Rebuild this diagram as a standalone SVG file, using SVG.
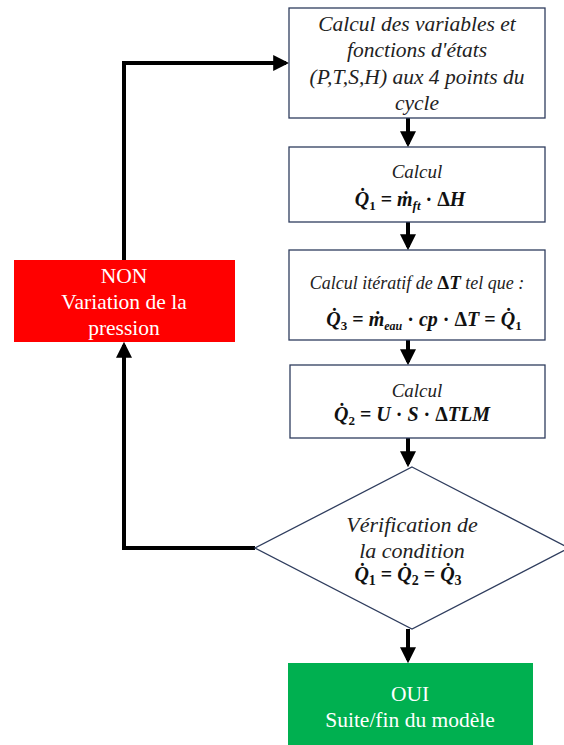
<svg xmlns="http://www.w3.org/2000/svg" width="564" height="745" viewBox="0 0 564 745">
<style>
.box{fill:#fff;stroke:#2f3d5e;stroke-width:1.3}
.t{font-family:"Liberation Serif","DejaVu Serif",serif;fill:#222;text-anchor:middle}
.it{font-style:italic}
.m{font-family:"Liberation Serif","DejaVu Serif",serif;font-style:italic;font-weight:bold;fill:#111;text-anchor:middle;font-size:20px}
.w{font-family:"Liberation Serif","DejaVu Serif",serif;fill:#fff;text-anchor:middle;font-size:21.5px}
.c{stroke:#000;stroke-width:4;fill:none}
</style>
<defs>
<marker id="ah" markerWidth="4" markerHeight="4" refX="3.2" refY="2" orient="auto" markerUnits="strokeWidth">
<path d="M0,0 L4,2 L0,4 Z" fill="#000"/>
</marker>
</defs>
<g id="connectors">
<line class="c" x1="408" y1="118" x2="408" y2="144" marker-end="url(#ah)"/>
<line class="c" x1="408" y1="222" x2="408" y2="247" marker-end="url(#ah)"/>
<line class="c" x1="408" y1="340" x2="408" y2="362" marker-end="url(#ah)"/>
<line class="c" x1="408" y1="438" x2="408" y2="464" marker-end="url(#ah)"/>
<line class="c" x1="408" y1="629" x2="408" y2="660" marker-end="url(#ah)"/>
<polyline class="c" points="255,548 124,548 124,345" marker-end="url(#ah)"/>
<polyline class="c" points="124,260 124,63 286,63" marker-end="url(#ah)"/>
</g>
<g id="n1">
<rect class="box" x="289" y="8" width="256" height="110"/>
<text class="t it" font-size="21.5" x="417" y="31">Calcul des variables et</text>
<text class="t it" font-size="21.5" x="417" y="57">fonctions d'états</text>
<text class="t it" font-size="21.5" x="417" y="84">(P,T,S,H) aux 4 points du</text>
<text class="t it" font-size="21.5" x="417" y="110">cycle</text>
</g>
<g id="n2">
<rect class="box" x="289" y="147" width="256" height="75"/>
<text class="t it" font-size="19" x="417" y="178">Calcul</text>
<text class="m" x="410" y="206">Q̇<tspan font-size="13" font-style="normal" dy="4">1</tspan><tspan dy="-4" font-style="normal"> = </tspan>ṁ<tspan font-size="13" dy="4">ft</tspan><tspan dy="-4" font-style="normal"> · Δ</tspan>H</text>
</g>
<g id="n3">
<rect class="box" x="289" y="250" width="256" height="90"/>
<text class="t it" font-size="18" x="417" y="289">Calcul itératif de <tspan font-weight="bold" font-style="normal" font-size="19" fill="#111">Δ</tspan><tspan font-weight="bold" font-size="19" fill="#111">T</tspan> tel que :</text>
<text class="m" x="424" y="326" font-size="19">Q̇<tspan font-size="13" font-style="normal" dy="4">3</tspan><tspan dy="-4" font-style="normal"> = </tspan>ṁ<tspan font-size="12" dy="4">eau</tspan><tspan dy="-4" font-style="normal"> · </tspan>cp<tspan font-style="normal"> · Δ</tspan>T<tspan font-style="normal"> = </tspan>Q̇<tspan font-size="13" font-style="normal" dy="4">1</tspan></text>
</g>
<g id="n4">
<rect class="box" x="290" y="365" width="255" height="73"/>
<text class="t it" font-size="19" x="417" y="397">Calcul</text>
<text class="m" x="412" y="421">Q̇<tspan font-size="13" font-style="normal" dy="4">2</tspan><tspan dy="-4" font-style="normal"> = </tspan>U<tspan font-style="normal"> · </tspan>S<tspan font-style="normal"> · Δ</tspan>TLM</text>
</g>
<g id="n5">
<polygon class="box" points="412,467 569,548 412,629 255,548"/>
<text class="t it" font-size="22" x="412" y="532">Vérification de</text>
<text class="t it" font-size="22" x="412" y="558">la condition</text>
<text class="m" x="408" y="581" font-size="21">Q̇<tspan font-size="14" font-style="normal" dy="4">1</tspan><tspan dy="-4" font-style="normal"> = </tspan>Q̇<tspan font-size="14" font-style="normal" dy="4">2</tspan><tspan dy="-4" font-style="normal"> = </tspan>Q̇<tspan font-size="14" font-style="normal" dy="4">3</tspan></text>
</g>
<g id="n6">
<rect x="288" y="663" width="245" height="85" fill="#00b050"/>
<text class="w" x="410" y="701">OUI</text>
<text class="w" x="410" y="727">Suite/fin du modèle</text>
</g>
<g id="n7">
<rect x="14" y="260" width="221" height="82" fill="#ff0000"/>
<text class="w" x="124" y="283">NON</text>
<text class="w" x="124" y="309">Variation de la</text>
<text class="w" x="124" y="335">pression</text>
</g>
</svg>
